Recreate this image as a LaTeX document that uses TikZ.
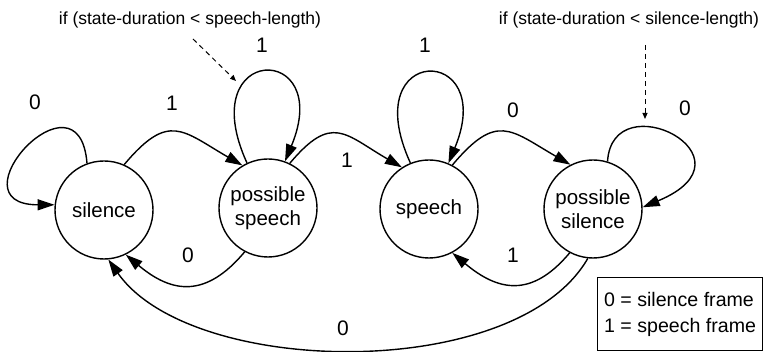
\documentclass[tikz,border=0pt]{standalone}
\usepackage{fontspec}
\setmainfont{Liberation Sans}
\usetikzlibrary{arrows.meta}
\begin{document}
\begin{tikzpicture}[x=1pt,y=1pt,
  state/.style={draw,circle,line width=1.4pt,minimum size=98pt,inner sep=0pt,
    align=center,font=\fontsize{20.5}{24}\selectfont},
  edge/.style={line width=1.4pt,-{Triangle[length=17pt,width=11pt]}},
  hint/.style={line width=1pt,dashed,dash pattern=on 5pt off 4pt,-{Triangle[length=6pt,width=5pt]}},
  lbl/.style={font=\fontsize{21}{24}\selectfont},
  note/.style={font=\fontsize{17.5}{20}\selectfont},
  legendbox/.style={draw,line width=1.2pt,minimum width=165pt,minimum height=73pt,
    inner sep=0pt,align=left,font=\fontsize{19.6}{26}\selectfont}]
\useasboundingbox (0,0) rectangle (764,352);

\node[state] (sil) at (104,142) {silence};
\node[state] (psp) at (268,144) {possible\\speech};
\node[state] (sp) at (429,143) {speech};
\node[state] (psi) at (593,143) {possible\\silence};

% self loops
\draw[edge] (sil.110) .. controls +(-8,100) and +(-105,0) .. (sil.174);
\draw[edge] (psp.115) .. controls +(-55,120) and +(50,120) .. (psp.70);
\draw[edge] (sp.112) .. controls +(-55,120) and +(50,120) .. (sp.67);
\draw[edge] (psi.73) .. controls +(5,80) and +(120,50) .. (psi.2);

% upper arcs
\draw[edge] (sil.66) to[out=50,in=150,looseness=1.5] (psp.121);
\draw[edge] (psp.64) to[out=50,in=150,looseness=1.5] (sp.123);
\draw[edge] (sp.62) to[out=50,in=150,looseness=1.5] (psi.117);

% lower arcs
\draw[edge] (psp.242) to[out=230,in=320,looseness=1.3] (sil.296);
\draw[edge] (psi.242) to[out=230,in=320,looseness=1.3] (sp.298);
\draw[edge] (psi.264) .. controls +(240:144) and +(305:144) .. (sil.275);

% labels
\node[lbl] (l0a) at (35,250) {0};
\node[lbl] (l1a) at (172,249) {1};
\node[lbl] (l1b) at (262,307) {1};
\node[lbl] (l1c) at (347,192) {1};
\node[lbl] (l1d) at (425,307) {1};
\node[lbl] (l0b) at (513,242) {0};
\node[lbl] (l0c) at (685,244) {0};
\node[lbl] (l0d) at (188,97) {0};
\node[lbl] (l1e) at (513,97) {1};
\node[lbl] (l0e) at (343,24) {0};

% notes
\node[note] (n1) at (190,332) {if (state-duration < speech-length)};
\node[note] (n2) at (629,332) {if (state-duration < silence-length)};
\coordinate (h1s) at (193,313);
\coordinate (h1e) at (236,271);
\coordinate (h2s) at (645,307);
\coordinate (h2e) at (645,233);
\draw[hint] (h1s) -- (h1e);
\draw[hint] (h2s) -- (h2e);

% legend
\node[legendbox,anchor=north west] (leg) at (597,75) {0 = silence frame\\1 = speech frame};
\end{tikzpicture}
\end{document}
